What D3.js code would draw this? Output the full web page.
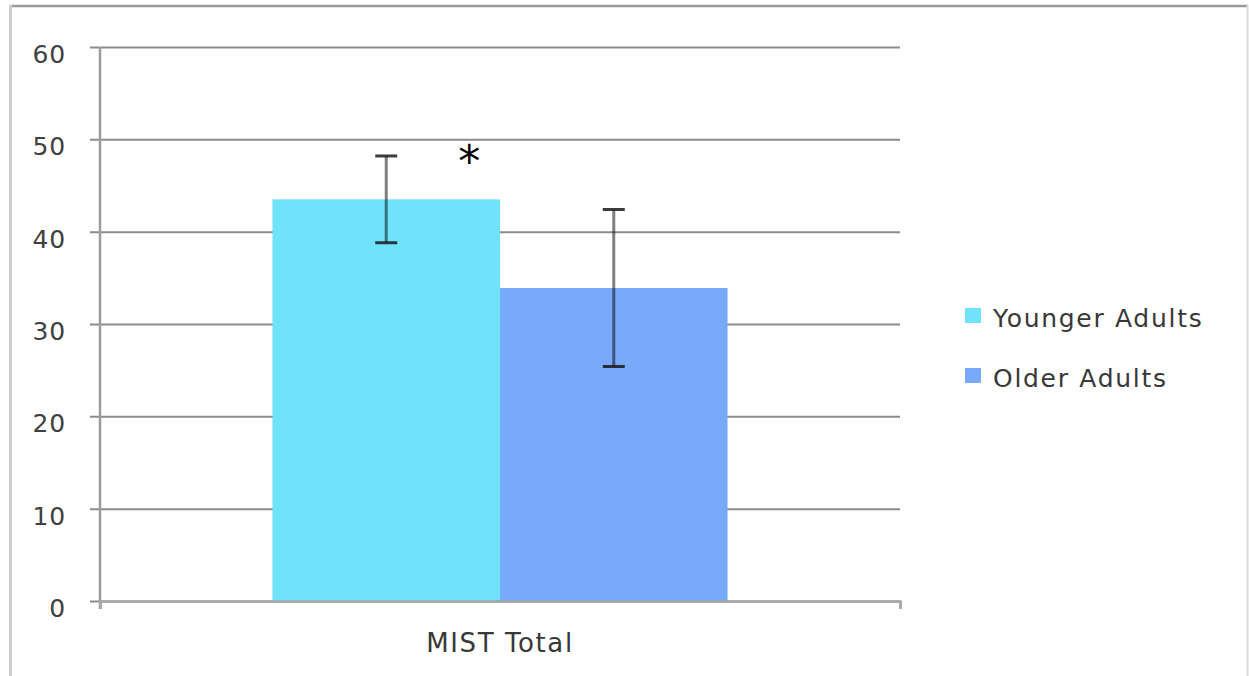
<!DOCTYPE html>
<html>
<head>
<meta charset="utf-8">
<script src="https://cdn.jsdelivr.net/npm/d3@7"></script>
<style>
  html, body { margin: 0; padding: 0; background: #fff; }
  svg { display: block; }
  text { font-family: "DejaVu Sans", Verdana, sans-serif; }
</style>
</head>
<body>
<svg id="chart" width="1249" height="676"></svg>
<script>
// MIST total scores by age group (means with error bars)
const categories = ["MIST Total"];
const seriesNames = ["Younger Adults", "Older Adults"];
const means = [43.5, 33.9];
const errors = [4.7, 8.5];
const yTicks = [0, 10, 20, 30, 40, 50, 60];
const colors = ["#70e2fc", "#79a9fb"];
const significance = "*";

const svg = d3.select("#chart");
const W = 1249, H = 676;
const plot = { left: 100, right: 900, top: 47, bottom: 601 };

// outer frame
svg.append("line").attr("x1", 10).attr("x2", 1248).attr("y1", 6).attr("y2", 6)
  .attr("stroke", "#9a9a9a").attr("stroke-width", 2.5);
svg.append("line").attr("x1", 10.5).attr("x2", 10.5).attr("y1", 5).attr("y2", H)
  .attr("stroke", "#cfcfcf").attr("stroke-width", 3);
svg.append("line").attr("x1", 1247.5).attr("x2", 1247.5).attr("y1", 5).attr("y2", H)
  .attr("stroke", "#dadada").attr("stroke-width", 2);

const y = d3.scaleLinear().domain([0, 60]).range([plot.bottom, plot.top]);
const x0 = d3.scaleBand().domain(categories).range([plot.left, plot.right])
  .paddingInner(0).paddingOuter(0.379);
const x1 = d3.scaleBand().domain(seriesNames).range([0, x0.bandwidth()]).padding(0);

// horizontal gridlines with left ticks
const yAxis = d3.axisLeft(y).tickValues(yTicks)
  .tickSize(-(plot.right - plot.left)).tickPadding(24)
  .tickFormat(d3.format("d"));
const gy = svg.append("g").attr("transform", `translate(${plot.left},0)`).call(yAxis);
gy.select(".domain").remove();
gy.selectAll(".tick line").attr("x1", -10).attr("stroke", "#8c8c8c").attr("stroke-width", 2);
gy.selectAll(".tick text").attr("fill", "#404040").attr("font-size", 25)
  .attr("letter-spacing", 0.8)
  .attr("dy", "0.62em").attr("x", -34);

// vertical axis line
svg.append("line").attr("x1", plot.left).attr("x2", plot.left)
  .attr("y1", plot.top).attr("y2", plot.bottom + 8)
  .attr("stroke", "#9c9c9c").attr("stroke-width", 2.5);

// bars
const groups = svg.append("g").selectAll("g").data(categories).join("g")
  .attr("transform", d => `translate(${x0(d)},0)`);

const rows = seriesNames.map((s, i) => ({ s, i, v: means[i], e: errors[i] }));

groups.selectAll("rect").data(rows).join("rect")
  .attr("x", d => x1(d.s))
  .attr("y", d => y(d.v))
  .attr("width", x1.bandwidth())
  .attr("height", d => y(0) - y(d.v))
  .attr("fill", d => colors[d.i]);

// bottom axis with end ticks
const xAxis = d3.axisBottom(d3.scaleLinear().domain([0, 1]).range([plot.left, plot.right]))
  .tickValues([0, 1]).tickSize(8).tickFormat("");
const gx = svg.append("g").attr("transform", `translate(0,${plot.bottom})`).call(xAxis);
gx.select(".domain").attr("stroke", "#a6a6a6").attr("stroke-width", 2.5);
gx.selectAll(".tick line").attr("stroke", "#a6a6a6").attr("stroke-width", 2.5);

// category label
svg.append("text").attr("x", x0(categories[0]) + x0.bandwidth() / 2).attr("y", 652)
  .attr("text-anchor", "middle").attr("fill", "#383838").attr("font-size", 26)
  .attr("letter-spacing", 1.6)
  .text(categories[0]);

// error bars
const eb = groups.selectAll("g.err").data(rows).join("g").attr("class", "err");
const cx = d => x1(d.s) + x1.bandwidth() / 2;
eb.append("line")
  .attr("x1", cx).attr("x2", cx)
  .attr("y1", d => y(d.v + d.e)).attr("y2", d => y(d.v - d.e))
  .attr("stroke", "#000").attr("stroke-opacity", 0.5).attr("stroke-width", 3);
eb.append("line")
  .attr("x1", d => cx(d) - 11).attr("x2", d => cx(d) + 11)
  .attr("y1", d => y(d.v + d.e)).attr("y2", d => y(d.v + d.e))
  .attr("stroke", "#1a1a1a").attr("stroke-opacity", 0.85).attr("stroke-width", 3);
eb.append("line")
  .attr("x1", d => cx(d) - 11).attr("x2", d => cx(d) + 11)
  .attr("y1", d => y(d.v - d.e)).attr("y2", d => y(d.v - d.e))
  .attr("stroke", "#1a1a1a").attr("stroke-opacity", 0.85).attr("stroke-width", 3);

// significance marker above the younger group's error bar
svg.append("text")
  .attr("x", x0(categories[0]) + x1(seriesNames[0]) + x1.bandwidth() / 2 + 83)
  .attr("y", y(means[0] + errors[0]) + 21)
  .attr("text-anchor", "middle").attr("fill", "#000").attr("font-size", 44)
  .text(significance);

// legend
const legend = svg.append("g").attr("transform", "translate(965,308)");
const li = legend.selectAll("g").data(seriesNames).join("g")
  .attr("transform", (d, i) => `translate(0,${i * 60})`);
li.append("rect").attr("width", 16).attr("height", 15)
  .attr("fill", (d, i) => colors[i]);
li.append("text").attr("x", 28).attr("y", 19)
  .attr("fill", "#383838").attr("font-size", 25).attr("letter-spacing", 1.7)
  .text(d => d);
</script>
</body>
</html>
